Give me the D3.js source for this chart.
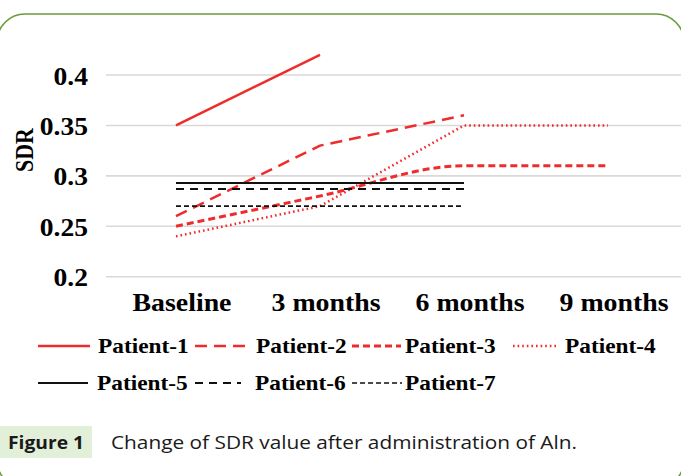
<!DOCTYPE html>
<html><head><meta charset="utf-8">
<script src="https://cdnjs.cloudflare.com/ajax/libs/d3/7.8.5/d3.min.js"></script>
<style>body{margin:0;background:#fff}svg{display:block}</style>
</head><body><svg id="c" width="681" height="476"></svg>
<script>
const categories = ["Baseline","3 months","6 months","9 months"];
const yTicks = [0.2,0.25,0.3,0.35,0.4];
const yTickLabels = ["0.2","0.25","0.3","0.35","0.4"];
const patient1 = [0.35, 0.42, null, null];
const patient2 = [0.26, 0.33, 0.36, null];
const patient3 = [0.25, 0.28, 0.31, 0.31];
const patient4 = [0.24, 0.27, 0.35, 0.35];
const patient5 = [0.293, 0.293, 0.293, null];
const patient6 = [0.287, 0.287, 0.287, null];
const patient7 = [0.27, 0.27, 0.27, null];
const seriesNames = ["Patient-1","Patient-2","Patient-3","Patient-4","Patient-5","Patient-6","Patient-7"];

const RED = "#ee2c2c", BLK = "#111";
const styles = [
  {c:RED, w:2.5, d:null, curve:d3.curveLinear},
  {c:RED, w:2.5, d:"12,7", curve:d3.curveLinear},
  {c:RED, w:3, d:"7,4", curve:d3.curveMonotoneX},
  {c:RED, w:2.5, d:"1.6,3", curve:d3.curveLinear},
  {c:BLK, w:2, d:null, curve:d3.curveLinear},
  {c:BLK, w:2, d:"8,6", curve:d3.curveLinear},
  {c:BLK, w:1.6, d:"5,3", curve:d3.curveLinear}
];
const data = [patient1,patient2,patient3,patient4,patient5,patient6,patient7];

function stretch(sel, f){
  sel.each(function(){
    const w = this.getComputedTextLength();
    d3.select(this).attr("textLength", w*f).attr("lengthAdjust","spacingAndGlyphs");
  });
}

const svg = d3.select("#c");
// border
svg.append("rect").attr("x",-3).attr("y",14).attr("width",687).attr("height",474)
  .attr("rx",28).attr("ry",28).attr("fill","none").attr("stroke","#6b9b3c").attr("stroke-width",1.6);

const x = d3.scaleBand().domain(categories).range([104,680]).padding(0);
const y = d3.scaleLinear().domain([0.2,0.4]).range([276.7,75]);

// grid
svg.append("g").selectAll("line").data(yTicks).join("line")
  .attr("x1",106).attr("x2",681).attr("y1",d=>y(d)).attr("y2",d=>y(d))
  .attr("stroke","#d9d9d9").attr("stroke-width",1.6);

const serif = "'Liberation Serif','Times New Roman',serif";
// y axis
const yAxis = d3.axisLeft(y).tickValues(yTicks).tickFormat((d,i)=>yTickLabels[i]).tickSize(0).tickPadding(0);
const ga = svg.append("g").attr("transform","translate(88,0)").call(yAxis);
ga.select(".domain").remove();
ga.selectAll("text").attr("font-family",serif).attr("font-weight","bold").attr("font-size",26)
  .attr("fill","#000").attr("dy","0.35em").attr("x",0);
stretch(ga.selectAll("text"), 1.06);

svg.append("text").attr("transform","translate(33,150) rotate(-90)").attr("text-anchor","middle")
  .attr("font-family",serif).attr("font-weight","bold").attr("font-size",25)
  .attr("textLength",44).attr("lengthAdjust","spacingAndGlyphs").text("SDR");

// x axis
const xAxis = d3.axisBottom(x).tickSize(0).tickPadding(0);
const gx = svg.append("g").attr("transform","translate(6,290)").call(xAxis);
gx.select(".domain").remove();
gx.selectAll("text").attr("font-family",serif).attr("font-weight","bold").attr("font-size",26)
  .attr("fill","#000").attr("dy","0.8em");
stretch(gx.selectAll("text"), 1.07);

// lines
const cx = i => x(categories[i]) + x.bandwidth()/2;
data.forEach((arr,k)=>{
  const pts = arr.map((v,i)=>({i,v})).filter(p=>p.v!==null);
  const line = d3.line().x(p=>cx(p.i)).y(p=>y(p.v)).curve(styles[k].curve);
  svg.append("path").datum(pts).attr("d",line).attr("fill","none")
    .attr("stroke",styles[k].c).attr("stroke-width",styles[k].w)
    .attr("stroke-dasharray",styles[k].d);
});

// legend
const leg = [
  {x1:38,x2:90,tx:98,ly:346},
  {x1:195,x2:246,tx:256,ly:346},
  {x1:352,x2:401,tx:405,ly:346},
  {x1:513,x2:556,tx:565,ly:346},
  {x1:38,x2:88,tx:97,ly:383},
  {x1:195,x2:241,tx:255,ly:383},
  {x1:352,x2:402,tx:405,ly:383}
];
const lg = svg.append("g");
seriesNames.forEach((n,k)=>{
  const L = leg[k];
  lg.append("line").attr("x1",L.x1).attr("x2",L.x2).attr("y1",L.ly).attr("y2",L.ly)
    .attr("stroke",styles[k].c).attr("stroke-width",styles[k].w).attr("stroke-dasharray",styles[k].d);
  lg.append("text").attr("x",L.tx).attr("y",L.ly).attr("dy","0.35em")
    .attr("font-family",serif).attr("font-weight","bold").attr("font-size",21).text(n);
});
stretch(lg.selectAll("text"), 1.11);

// caption
const sans = "'Open Sans','Noto Sans',sans-serif";
svg.append("rect").attr("x",0).attr("y",426).attr("width",92).attr("height",32).attr("fill","#e2efd9");
svg.append("text").attr("x",8).attr("y",449).attr("font-family",sans).attr("font-weight","bold")
  .attr("font-size",18).attr("fill","#1a1a1a").attr("textLength",76).attr("lengthAdjust","spacingAndGlyphs").text("Figure 1");
svg.append("text").attr("x",111).attr("y",449).attr("font-family",sans)
  .attr("font-size",18).attr("fill","#1a1a1a").attr("textLength",466).attr("lengthAdjust","spacingAndGlyphs").text("Change of SDR value after administration of Aln.");
</script></body></html>
